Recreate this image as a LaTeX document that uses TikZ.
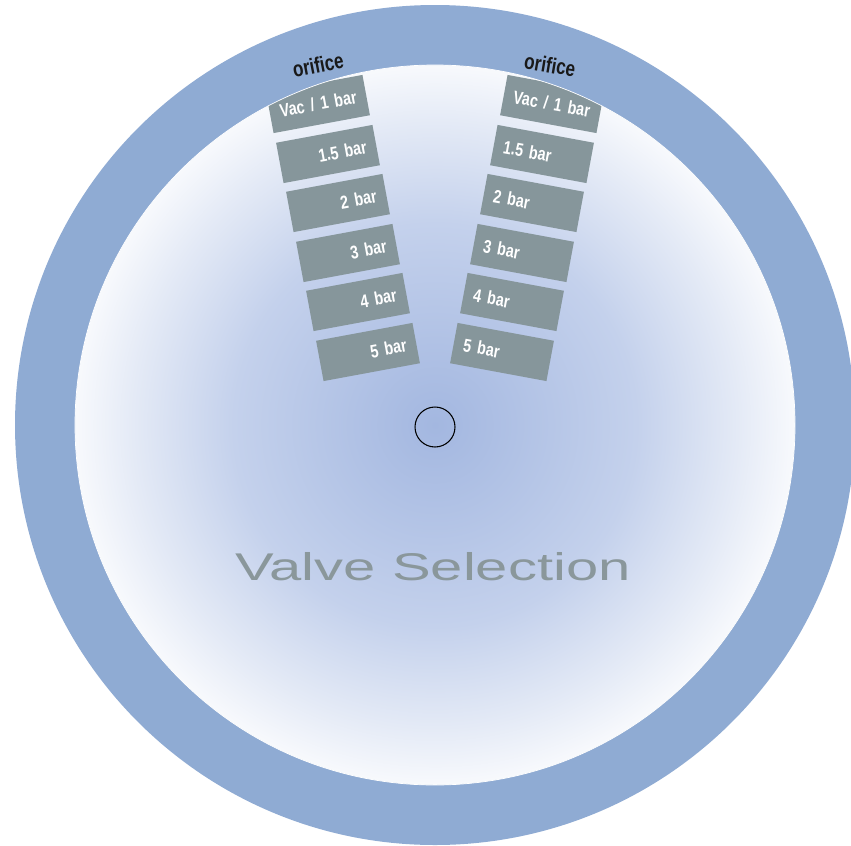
\documentclass[tikz,border=0pt]{standalone}
\usepackage{fontspec}
\usepackage{tikz}
\usetikzlibrary{positioning}
\newfontfamily\condfont[FakeStretch=0.78]{Liberation Sans}
\newfontfamily\widefont[FakeStretch=1.5]{Liberation Sans}
\definecolor{ringblue}{RGB}{143,171,211}
\definecolor{slotgray}{RGB}{134,150,155}
\definecolor{discmid}{RGB}{163,183,224}
\definecolor{discmidb}{RGB}{196,209,236}
\definecolor{discmidc}{RGB}{228,234,246}
\definecolor{titlegray}{RGB}{138,151,155}
\pgfdeclareradialshading{disc}{\pgfpoint{0bp}{0bp}}{color(0bp)=(discmid); color(14bp)=(discmidb); color(21bp)=(discmidc); color(26.5bp)=(white); color(50bp)=(white)}

\begin{document}
\begin{tikzpicture}[x=0.02cm,y=-0.02cm,
  bar/.style={fill=slotgray,text=white,font=\condfont\bfseries\fontsize{10.5}{12}\selectfont,
    minimum height=0.82cm,inner xsep=0.2cm,text width=1.56cm},
  lbar/.style={bar,rotate=10.5,align=right},
  rbar/.style={bar,rotate=-10.5,align=left},
  head/.style={font=\condfont\bfseries\fontsize{12.5}{14}\selectfont,text=black!90}]
\useasboundingbox (0,0) rectangle (851,845);
\shade[shading=disc] (435,425) circle[radius=360];
% left column
\node[lbar] (l1) at (318,104) {Vac / 1 bar};
\node[lbar] (l2) at (328,154) {1.5 bar};
\node[lbar] (l3) at (338,203) {2 bar};
\node[lbar] (l4) at (348,253) {3 bar};
\node[lbar] (l5) at (358,302) {4 bar};
\node[lbar] (l6) at (368,352) {5 bar};
% right column
\node[rbar] (r1) at (552,104) {Vac / 1 bar};
\node[rbar] (r2) at (542,154) {1.5 bar};
\node[rbar] (r3) at (532,203) {2 bar};
\node[rbar] (r4) at (522,253) {3 bar};
\node[rbar] (r5) at (512,302) {4 bar};
\node[rbar] (r6) at (502,352) {5 bar};
% ring
\fill[ringblue,even odd rule] (435,425) circle[radius=420] circle[radius=360];
\draw[white,line width=0.4pt] (435,425) circle[radius=360];
\node[head,rotate=11] (o1) at (318,65) {orifice};
\node[head,rotate=-9.5] (o2) at (550,65) {orifice};
\node[draw,circle,minimum size=0.8cm,inner sep=0pt,line width=0.6pt] (hub) at (435,427) {};
\node[font=\widefont\fontsize{22}{26}\selectfont,text=titlegray,anchor=base] (title) at (433,580) {Valve Selection};
\end{tikzpicture}
\end{document}
